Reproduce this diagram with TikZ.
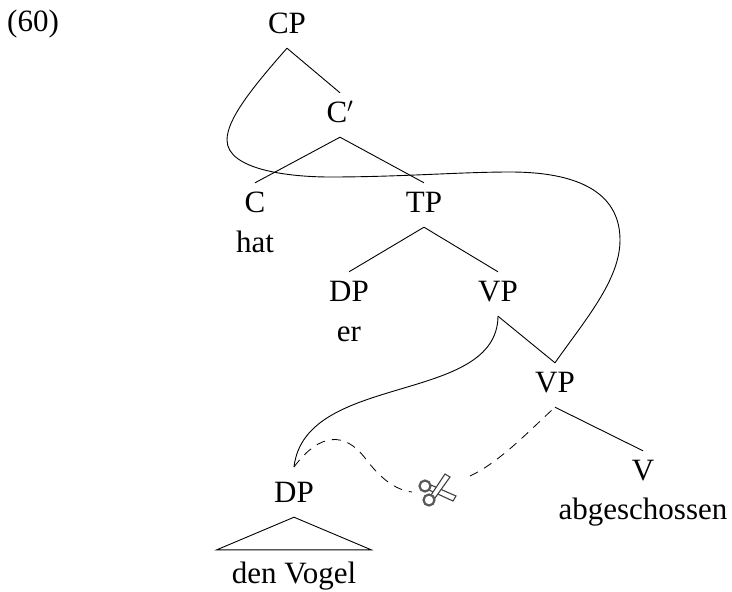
\documentclass[tikz,border=0pt]{standalone}
\usepackage{fontspec}
\setmainfont{Liberation Serif}
\usetikzlibrary{positioning}
\tikzstyle{lab}=[anchor=base, inner sep=0pt, text height=29pt, text depth=15pt, font=\fontsize{31}{33}\selectfont]
\tikzstyle{word}=[anchor=base, inner sep=0pt, font=\fontsize{31}{33}\selectfont]
\tikzstyle{l1}=[line width=0.9]
\tikzstyle{cut}=[line width=0.8, dash pattern=on 9pt off 7pt]
\tikzstyle{blade}=[draw=black!75, line width=1.1, fill=white]
\tikzstyle{grip}=[circle, draw=black!65, line width=2.2, fill=white, minimum size=11pt, inner sep=0pt]

\begin{document}
\begin{tikzpicture}[x=1pt, y=-1pt]
    \useasboundingbox (0,0) rectangle (732,592);
    \node[word, anchor=base west] (ex) at (7,31) {(60)};

    \node[lab] (CP) at (287,33) {CP};
    \node[lab] (Cb) at (340,122) {C$'$};
    \node[lab] (C) at (255,212) {C};
    \node[word] (hat) at (255,252) {hat};
    \node[lab] (TP) at (424,212) {TP};
    \node[lab] (DPs) at (349,301) {DP};
    \node[word] (er) at (349,341) {er};
    \node[lab] (VPu) at (498,301) {VP};
    \node[lab] (VPl) at (555,392) {VP};
    \node[lab] (V) at (643,480) {V};
    \node[word] (abg) at (643,519) {abgeschossen};
    \node[lab] (DPo) at (294,502) {DP};
    \node[lab, text height=33pt, minimum width=154pt] (den) at (294,583) {den Vogel};
    \coordinate (DPt) at (294,467);
    \coordinate (scl) at (412,492);
    \coordinate (scr) at (470,476);

    \draw[l1] (CP.south) -- (Cb.north);
    \draw[l1] (Cb.south) -- (C.north);
    \draw[l1] (Cb.south) -- (TP.north);
    \draw[l1] (TP.south) -- (DPs.north);
    \draw[l1] (TP.south) -- (VPu.north);
    \draw[l1] (VPu.south) -- (VPl.north);
    \draw[l1] (VPl.south) -- (V.north);
    \draw[l1] (den.north west) -- (DPo.south) -- (den.north east) -- cycle;

    % moved parts
    \draw[l1] (CP.south) .. controls (250,90) and (227,120) .. (227,140)
        .. controls (227,170) and (290,177) .. (330,177)
        .. controls (400,177) and (460,172) .. (510,172)
        .. controls (590,172) and (620,200) .. (620,240)
        .. controls (620,280) and (585,320) .. (VPl.north);
    \draw[l1] (VPu.south) .. controls (497,405) and (305,372) .. (DPt);

    % scissors
    \draw[blade] (431,485) -- (429,490) -- (453,501) -- (456,496) -- cycle;
    \draw[blade] (431,495) -- (435,498) -- (450,477) -- (445,474) -- cycle;
    \node[grip] (sc1) at (425,486) {};
    \node[grip] (sc2) at (429,500) {};

    \draw[cut] (DPt) .. controls (320,432) and (345,432) .. (365,458)
        .. controls (380,478) and (395,490) .. (scl);
    \draw[cut] (scr) .. controls (500,462) and (530,430) .. (VPl.south);
\end{tikzpicture}
\end{document}
